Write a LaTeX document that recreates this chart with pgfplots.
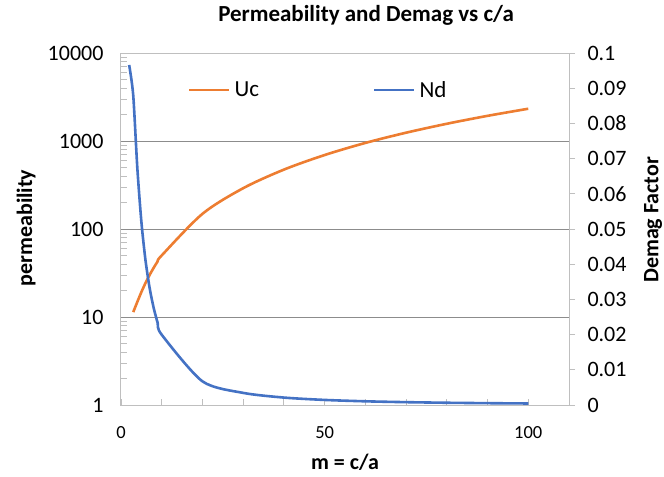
\documentclass[border=0pt]{standalone}
\usepackage{fontspec}
\setmainfont{Carlito}
\usepackage{pgfplots}
\pgfplotsset{compat=1.18}
\definecolor{xlorange}{HTML}{ED7D31}
\definecolor{xlblue}{HTML}{4472C4}
\definecolor{axgray}{HTML}{BFBFBF}
\definecolor{grgray}{HTML}{8C8C8C}
\newcommand{\fs}[1]{\fontsize{#1}{#1}\selectfont}
\begin{document}
\begin{tikzpicture}
\useasboundingbox (-121bp,-72bp) rectangle (543bp,405bp);
\begin{axis}[
  at={(0,0)}, anchor=south west, scale only axis,
  width=448bp, height=352bp,
  xmin=0, xmax=110,
  ymode=log, ymin=1, ymax=10000,
  xtick={0,50,100}, xticklabels={0,50,100},
  minor xtick={10,20,30,40,60,70,80,90},
  ytick={1,10,100,1000,10000}, yticklabels={1,10,100,1000,10000},
  minor ytick={2,3,4,5,6,7,8,9,20,30,40,50,60,70,80,90,200,300,400,500,600,700,800,900,2000,3000,4000,5000,6000,7000,8000,9000},
  extra y ticks={10,100,1000}, extra y tick labels={},
  extra y tick style={grid=major, major tick length=0pt},
  major grid style={grgray, line width=0.9bp},
  xtick pos=bottom, ytick pos=left,
  tick align=inside,
  major tick length=6bp, minor tick length=6bp,
  tick style={axgray, line width=0.9bp},
  axis line style={axgray, line width=1bp},
  xticklabel style={font=\fs{18.5bp}, yshift=-18bp},
  yticklabel style={font=\fs{22bp}, xshift=-14bp},
  title={\textbf{Permeability and Demag vs c/a}},
  title style={font=\fs{23bp}, at={(axis description cs:0.547,1.09)}, anchor=center},
  xlabel={\textbf{m = c/a}},
  xlabel style={font=\fs{22bp}, inner sep=0pt, at={(axis description cs:0.5,-0.163)}, anchor=center},
  ylabel={\textbf{permeability}},
  ylabel style={font=\fs{22bp}, at={(axis description cs:-0.212,0.503)}, anchor=center},
  legend image code/.code={\draw[#1] (0bp,0bp) -- (40bp,0bp);},
  legend style={at={(axis description cs:0.1496,0.895)}, anchor=west, draw=none, fill=none,
    inner sep=0pt, outer sep=0pt, nodes={inner sep=0pt, font=\fs{23bp}},
    /tikz/every odd column/.append style={column sep=4bp}},
]
\addplot[xlorange, line width=2.6bp, smooth, tension=0.5] coordinates {
(3,11.36) (4,14.82) (5,19.19) (6,24.24) (7,29.89) (8,36.10) (9,42.85) (10,50.1)
(20,148.7) (30,290.9) (40,473) (50,693) (60,951) (70,1243) (80,1570) (90,1932) (100,2327)};
\addlegendentry{Uc}
\end{axis}
\begin{axis}[
  at={(0,0)}, anchor=south west, scale only axis,
  width=448bp, height=352bp,
  xmin=0, xmax=110, ymin=0, ymax=0.1,
  axis x line=none, axis y line*=right,
  ytick={0,0.01,0.02,0.03,0.04,0.05,0.06,0.07,0.08,0.09,0.1},
  yticklabels={0,0.01,0.02,0.03,0.04,0.05,0.06,0.07,0.08,0.09,0.1},
  tick align=outside, major tick length=6bp,
  tick style={axgray, line width=0.9bp},
  axis line style={axgray, line width=1bp},
  yticklabel style={font=\fs{22bp}, xshift=9bp},
  ylabel={\textbf{Demag Factor}},
  ylabel style={font=\fs{22bp}, at={(axis description cs:1.1875,0.526)}, anchor=center},
  legend image code/.code={\draw[#1] (0bp,0bp) -- (40bp,0bp);},
  legend style={at={(axis description cs:0.5625,0.895)}, anchor=west, draw=none, fill=none,
    inner sep=0pt, outer sep=0pt, nodes={inner sep=0pt, font=\fs{23bp}},
    /tikz/every odd column/.append style={column sep=4bp}},
]
\addplot[xlblue, line width=2.6bp, smooth, tension=0.45] coordinates {
(2,0.0966) (3,0.0880) (4,0.0675) (5,0.0521) (6,0.04125) (7,0.03345) (8,0.0277) (9,0.02334) (10,0.01996)
(20,0.00672) (30,0.00344) (40,0.00211) (50,0.00144) (60,0.00105) (70,0.000805) (80,0.000637) (90,0.000518) (100,0.000430)};
\addlegendentry{Nd}
\end{axis}
\end{tikzpicture}
\end{document}
